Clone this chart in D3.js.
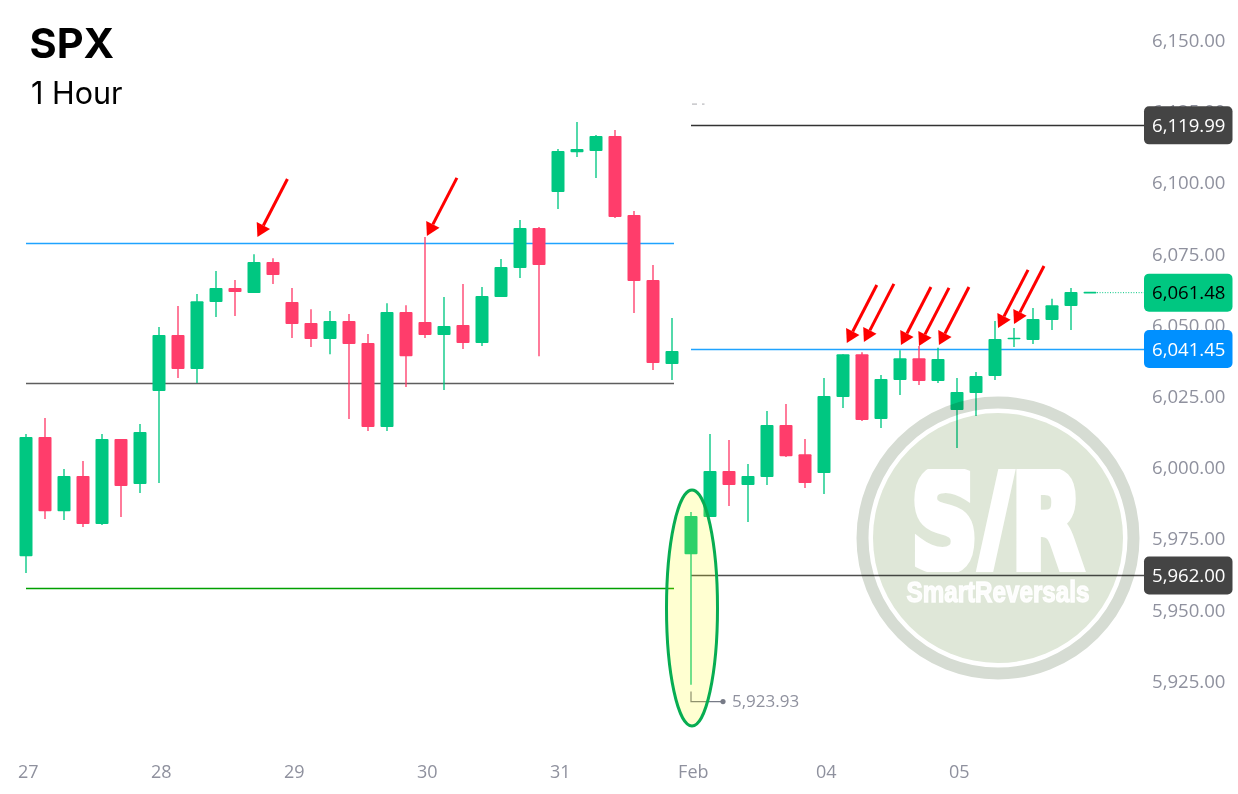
<!DOCTYPE html>
<html>
<head>
<meta charset="utf-8">
<script src="https://cdn.jsdelivr.net/npm/d3@7"></script>
<style>
html,body{margin:0;padding:0;background:#fff;overflow:hidden}
svg{display:block}
text{font-family:"Open Sans",sans-serif}
</style>
</head>
<body>
<svg id="c" width="1238" height="794"></svg>
<script>
const opens = [5969.0,6010.8,5984.8,5997.1,5980.3,6010.1,5994.3,6027.0,6046.6,6034.7,6058.2,6063.1,6061.4,6072.2,6058.2,6050.8,6045.2,6051.5,6043.8,6014.3,6054.7,6051.2,6046.6,6050.1,6043.8,6060.0,6070.1,6084.2,6096.8,6110.8,6111.2,6116.5,6088.7,6065.9,6036.4,5969.7,5982.7,5998.9,5994.0,5996.8,6015.0,6004.8,5998.2,6024.9,6039.9,6017.1,6030.8,6038.5,6030.5,6020.3,6026.3,6032.2,6045.2,6044.9,6051.9,6056.8,6061.48];
const highs = [6011.9,6017.5,5999.6,6002.4,6011.9,6010.1,6015.4,6049.4,6056.8,6061.0,6069.1,6065.9,6075.0,6073.6,6063.1,6055.7,6055.0,6054.0,6047.0,6057.8,6057.1,6081.0,6060.0,6064.5,6063.5,6073.3,6087.0,6084.5,6111.9,6121.4,6116.8,6118.6,6090.1,6071.2,6052.6,5984.5,6011.9,6009.8,6001.3,6019.9,6022.4,6010.1,6031.5,6039.9,6040.6,6032.6,6041.3,6042.8,6042.1,6031.5,6033.6,6051.5,6049.1,6056.1,6059.3,6063.1,6061.48];
const lows = [5963.1,5982.0,5981.7,5979.2,5979.9,5982.7,5991.2,5994.7,6031.5,6029.8,6052.9,6053.3,6061.4,6064.5,6045.6,6042.4,6039.9,6017.1,6012.9,6012.9,6028.4,6045.6,6027.3,6041.7,6042.8,6060.0,6066.6,6039.2,6090.8,6109.1,6101.7,6087.7,6054.3,6034.3,6030.8,5923.9,5982.7,5986.6,5981.0,5994.0,6003.8,5992.9,5990.8,6021.0,6016.4,6014.0,6025.6,6029.1,6029.8,6007.0,6018.2,6030.8,6042.4,6043.5,6048.4,6048.4,6061.48];
const closes = [6010.8,5984.8,5997.1,5980.3,6010.1,5993.6,6012.6,6046.6,6034.7,6058.5,6063.1,6061.7,6072.2,6067.7,6050.5,6045.2,6051.5,6043.5,6014.3,6054.7,6039.2,6046.6,6049.8,6043.8,6060.3,6070.5,6084.2,6071.2,6111.2,6111.9,6116.5,6088.0,6065.6,6036.8,6041.0,5983.1,5998.9,5994.0,5997.1,6015.0,6004.1,5994.7,6025.2,6039.9,6016.8,6031.2,6038.5,6030.5,6038.2,6026.6,6032.2,6045.2,6045.6,6052.2,6057.1,6061.7,6061.48];

const priceTicks = [6150,6125,6100,6075,6050,6025,6000,5975,5950,5925];
const dayTicks = [0,7,14,21,28,35,42,49];
const dayLabels = ["27","28","29","30","31","Feb","04","05"];

const leftLevels = [6078.9,6029.5,5957.6];
const leftLevelColors = ["#1FA3FF","#5E5E5E","#00A000"];
const rightLevelPrices = [6120.2,6041.7,5962.2];
const rightLevelLabels = ["6,119.99","6,041.45","5,962.00"];
const rightLevelColors = ["#333333","#1FA3FF","#4E4E4E"];
const badgeFills = ["#444444","#0090FF","#444444"];

const lastPrice = 6061.48;
const lowBar = 35, lowPrice = 5923.93;

const arrowBars = [12.18,21.1,43.2,44.1,46.05,47,48.05,51.16,52];
const arrowPrices = [6081.0,6081.4,6043.8,6044.2,6043.1,6042.8,6043.1,6049.1,6050.5];

const GREEN = "#00C781", RED = "#FF3D6B", GREY = "#8F919E";

const svg = d3.select("#c");
svg.append("rect").attr("width",1238).attr("height",794).attr("fill","#fff");

const x = d3.scaleLinear().domain([0,56]).range([26,1090]);
const y = d3.scaleLinear().domain([5925,6150]).range([681.5,40.46]);
const snap = v => Math.floor(y(v)) + .5;
const n = opens.length;
const bars = d3.range(n);

// price axis
const yAxis = d3.axisRight(y).tickValues(priceTicks).tickSize(0).tickPadding(0).tickFormat(d3.format(",.2f"));
const gy = svg.append("g").attr("transform","translate(1152,0)").call(yAxis);
gy.select(".domain").remove();
gy.selectAll("text").attr("fill",GREY).style("font-size","18.6px").style("font-family",'"Open Sans",sans-serif');

// time axis
const xAxis = d3.axisBottom(x).tickValues(dayTicks).tickSize(0).tickPadding(0).tickFormat((d,i)=>dayLabels[i]);
const gx = svg.append("g").attr("transform","translate(1.8,765.5)").call(xAxis);
gx.select(".domain").remove();
gx.selectAll("text").attr("fill",GREY).style("font-size","18px").style("font-family",'"Open Sans",sans-serif');

// left-panel levels
svg.append("g").selectAll("line").data(leftLevels).join("line")
  .attr("x1",x(0)).attr("x2",674).attr("y1",snap).attr("y2",snap)
  .attr("stroke",(d,i)=>leftLevelColors[i]).attr("stroke-width",1.4);

// right-panel levels
svg.append("g").selectAll("line").data(rightLevelPrices).join("line")
  .attr("x1",x(35)).attr("x2",1146).attr("y1",snap).attr("y2",snap)
  .attr("stroke",(d,i)=>rightLevelColors[i]).attr("stroke-width",1.4);

// candles
const col = i => closes[i] >= opens[i] ? GREEN : RED;
const gc = svg.append("g");
gc.selectAll("line").data(bars).join("line")
  .attr("x1",i=>x(i)).attr("x2",i=>x(i))
  .attr("y1",i=>y(highs[i])).attr("y2",i=>y(lows[i]))
  .attr("stroke",col).attr("stroke-width",1.6).attr("stroke-opacity",.85);
gc.selectAll("rect").data(bars).join("rect")
  .attr("x",i=>x(i)-6.5).attr("width",13).attr("rx",1)
  .attr("y",i=>{const a=y(Math.max(opens[i],closes[i])),b=y(Math.min(opens[i],closes[i]));return b-a<1.6?(a+b)/2-.8:a;})
  .attr("height",i=>Math.max(1.6,Math.abs(y(opens[i])-y(closes[i]))))
  .attr("fill",col);

// last price dotted guide
svg.append("line").attr("x1",x(56)+7).attr("x2",1146).attr("y1",y(lastPrice)).attr("y2",y(lastPrice))
  .attr("stroke",GREEN).attr("stroke-width",1).attr("stroke-dasharray","1 1.6");

// low marker
const lowY = y(lowPrice);
svg.append("path").attr("d",`M${x(lowBar)},${lowY+7}V${lowY+17}H${x(lowBar)+31}`)
  .attr("fill","none").attr("stroke","#777B87").attr("stroke-width",1.2);
svg.append("circle").attr("cx",x(lowBar)+32).attr("cy",lowY+17).attr("r",2.6).attr("fill","#777B87");
svg.append("text").attr("x",x(lowBar)+41).attr("y",lowY+17).attr("dy",".35em")
  .attr("fill",GREY).style("font-size","17px").text(d3.format(",.2f")(lowPrice));

// highlight ellipse
svg.append("ellipse").attr("cx",692).attr("cy",608).attr("rx",25.5).attr("ry",118)
  .attr("fill","rgba(255,255,0,.18)").attr("stroke","#07AD52").attr("stroke-width",3);

// arrows
const ax = 30, ay = -58, len = Math.hypot(ax,ay), ux = ax/len, uy = ay/len;
const ga = svg.append("g");
arrowBars.forEach((b,i)=>{
  const tx = x(b), ty = y(arrowPrices[i]);
  const bx = tx+ux*13, by = ty+uy*13;
  ga.append("line").attr("x1",bx).attr("y1",by).attr("x2",tx+ax).attr("y2",ty+ay)
    .attr("stroke","#FF0000").attr("stroke-width",3);
  ga.append("path").attr("fill","#FF0000")
    .attr("d",`M${tx},${ty}L${bx-uy*7.5},${by+ux*7.5}L${bx+uy*7.5},${by-ux*7.5}Z`);
});

// clipped fragment of an old annotation under the top band
svg.append("g").attr("fill","#B8B8BC").selectAll("rect").data([692,702]).join("rect")
  .attr("x",d=>d).attr("y",103.5).attr("width",(d,i)=>i?2.5:5).attr("height",1.2);

// watermark
svg.append("defs").append("clipPath").attr("id","srClip")
  .append("rect").attr("x",880).attr("y",469).attr("width",240).attr("height",103);
const wm = svg.append("g").style("mix-blend-mode","multiply");
wm.append("circle").attr("cx",998).attr("cy",538).attr("r",135.5).attr("fill","none")
  .attr("stroke","#D6DCD3").attr("stroke-width",12);
wm.append("circle").attr("cx",998).attr("cy",538).attr("r",125).attr("fill","#DFE7D8");
wm.append("g").attr("clip-path","url(#srClip)").append("text").attr("text-anchor","middle")
  .attr("transform","translate(997,568) scale(.7,1)")
  .attr("fill","#fff").attr("stroke","#fff").attr("stroke-width",10)
  .style("font-family",'"DejaVu Sans",sans-serif')
  .style("font-weight",700).style("font-size","132px").text("S/R");
wm.append("text").attr("text-anchor","middle")
  .attr("transform","translate(998,602) scale(1,1.22)")
  .attr("fill","#fff").attr("fill-opacity",.92).attr("stroke","#fff").attr("stroke-width",1.1).attr("stroke-opacity",.92)
  .style("font-family",'"Liberation Sans Narrow","Liberation Sans",sans-serif')
  .style("font-weight",700).style("font-size","24.2px").text("SmartReversals");

// right badges
const badgeData = [
  {p:rightLevelPrices[0],t:rightLevelLabels[0],f:badgeFills[0],c:"#fff"},
  {p:lastPrice,t:d3.format(",.2f")(lastPrice),f:GREEN,c:"#000"},
  {p:rightLevelPrices[1],t:rightLevelLabels[1],f:badgeFills[1],c:"#fff"},
  {p:rightLevelPrices[2],t:rightLevelLabels[2],f:badgeFills[2],c:"#fff"}
];
const gb = svg.append("g").selectAll("g").data(badgeData).join("g")
  .attr("transform",d=>`translate(1144,${y(d.p)})`);
gb.append("rect").attr("y",-19).attr("width",88.5).attr("height",38).attr("rx",5).attr("fill",d=>d.f);
gb.append("text").attr("x",8).attr("dy",".36em").attr("fill",d=>d.c).style("font-size","18.6px").text(d=>d.t);

// title
svg.append("text").attr("x",29.5).attr("y",58).attr("fill","#000")
  .style("font-family","Inter,sans-serif").style("font-weight",700).style("font-size","41.5px").text("SPX");
svg.append("text").attr("x",31).attr("y",103.5).attr("fill","#000")
  .style("font-family","Inter,sans-serif").style("font-weight",400).style("font-size","30.5px").text("1 Hour");
</script>
</body>
</html>
